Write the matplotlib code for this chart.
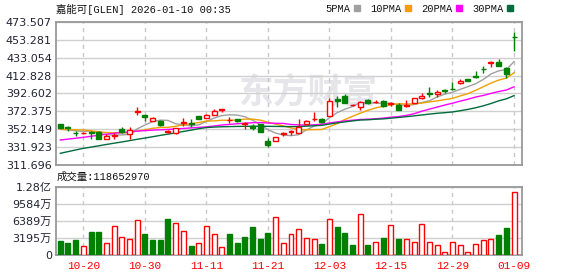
import numpy as np
import matplotlib.pyplot as plt
from matplotlib.lines import Line2D

plt.rcParams['font.family'] = ['DejaVu Sans', 'Noto Sans CJK SC']

# ---- data ----
dates = ["10-20", "10-30", "11-11", "11-21", "12-03", "12-15", "12-29", "01-09"]
date_pos = [3, 11, 19, 27, 35, 43, 51, 59]

opens = [358.6, 354.5, 348.2, 347.6, 349.0, 349.2, 341.0, 345.2, 352.3, 347.5,
         371.5, 368.4, 362.0, 361.3, 349.5, 347.7, 359.8, 359.5, 367.3, 365.5,
         368.5, 374.0, 362.3, 363.5, 358.5, 356.0, 358.2, 339.5, 339.4, 347.5,
         349.5, 348.4, 358.2, 363.5, 364.0, 367.2, 386.8, 390.0, 379.2, 377.5,
         385.3, 383.0, 384.2, 381.0, 379.6, 378.5, 381.6, 387.2, 393.3, 392.0,
         396.2, 398.0, 404.0, 408.8, 412.0, 420.3, 426.6, 428.4, 421.0, 456.5]
highs = [358.6, 356.0, 350.7, 349.5, 350.5, 350.0, 347.5, 348.5, 355.0, 354.5,
         377.0, 368.4, 366.0, 362.5, 351.0, 354.0, 365.5, 363.5, 367.3, 369.0,
         375.0, 375.5, 366.5, 364.0, 360.5, 358.0, 358.5, 342.0, 344.0, 349.6,
         351.5, 364.0, 362.5, 371.3, 365.0, 387.0, 390.0, 391.5, 381.0, 384.0,
         386.5, 385.0, 385.0, 383.5, 381.5, 385.3, 387.5, 393.5, 400.0, 396.5,
         398.0, 405.0, 408.5, 409.0, 418.0, 423.6, 429.0, 431.5, 423.0, 462.0]
lows = [354.1, 350.5, 344.8, 346.5, 341.0, 341.0, 341.0, 341.0, 348.5, 341.0,
        368.5, 361.8, 361.5, 355.5, 348.5, 347.5, 356.0, 355.2, 363.6, 364.5,
        368.0, 372.0, 359.0, 361.0, 352.3, 351.5, 349.0, 332.7, 339.0, 344.7,
        346.0, 348.0, 358.0, 362.0, 360.5, 367.0, 377.7, 381.5, 378.0, 373.5,
        381.0, 381.5, 377.5, 378.5, 373.5, 377.0, 381.5, 386.5, 389.0, 389.0,
        393.5, 396.5, 403.0, 407.0, 410.5, 416.0, 422.8, 423.5, 410.5, 440.5]
closes = [354.1, 353.2, 347.6, 348.5, 348.0, 341.5, 345.0, 346.0, 349.0, 351.5,
          372.5, 366.5, 365.0, 357.5, 350.0, 353.5, 360.5, 358.7, 363.6, 368.5,
          373.0, 374.8, 363.0, 362.0, 359.3, 353.4, 349.6, 334.6, 343.2, 348.0,
          350.0, 355.0, 362.0, 364.2, 361.0, 384.0, 383.6, 381.6, 379.8, 383.0,
          381.6, 383.5, 378.5, 381.8, 374.0, 379.2, 387.2, 389.8, 392.5, 394.6,
          395.5, 397.5, 406.5, 407.2, 411.2, 419.7, 428.5, 423.9, 414.2, 456.0]
# volume in millions of shares
volumes = [26.7, 23.0, 28.5, 16.7, 43.4, 43.4, 22.3, 54.0, 33.5, 29.8,
           65.0, 39.7, 28.5, 28.5, 67.6, 60.0, 44.6, 17.4, 22.3, 54.0,
           39.0, 14.9, 39.7, 23.0, 34.0, 52.7, 30.4, 41.5, 70.7, 22.3,
           39.7, 48.4, 31.6, 29.8, 21.0, 67.0, 52.7, 42.2, 19.2, 76.9,
           19.2, 24.8, 32.2, 55.8, 30.4, 29.8, 24.8, 58.3, 24.8, 18.6,
           5.6, 24.8, 18.6, 5.6, 20.5, 27.9, 29.8, 37.8, 50.8, 118.65297]

ma5 = [352.3, 351.5, 350.5, 349.8, 350.3, 347.8, 346.1, 345.8, 345.9, 346.6,
       352.8, 357.1, 360.9, 362.6, 362.3, 358.5, 357.3, 356.0, 357.3, 361.0,
       364.9, 367.7, 368.6, 368.3, 366.4, 362.5, 357.5, 351.8, 348.0, 345.8,
       345.1, 346.2, 351.6, 355.8, 358.4, 365.2, 371.0, 374.9, 378.0, 382.4,
       381.9, 381.9, 381.3, 381.7, 379.9, 379.4, 380.1, 382.4, 384.5, 388.7,
       391.9, 394.0, 397.3, 400.3, 403.6, 408.4, 414.6, 418.1, 419.5, 428.5]
ma10 = [352.3, 352.0, 351.8, 351.5, 350.5, 349.5, 348.6, 348.4, 348.3, 348.4,
        350.3, 351.6, 353.4, 354.3, 354.5, 355.7, 357.2, 358.5, 359.9, 361.6,
        361.7, 362.5, 362.3, 362.8, 363.7, 363.7, 362.6, 360.2, 358.1, 356.1,
        353.8, 351.8, 351.7, 351.9, 352.1, 355.2, 358.6, 363.3, 366.9, 370.4,
        373.6, 376.4, 378.1, 379.8, 381.1, 380.7, 381.0, 381.8, 383.1, 384.3,
        385.7, 387.1, 389.9, 392.4, 396.1, 400.2, 404.3, 407.7, 409.9, 416.0]
ma20 = [340.2, 341.2, 342.2, 343.2, 344.4, 345.6, 346.8, 347.8, 348.6, 349.4,
        350.2, 350.8, 351.3, 351.7, 352.1, 352.6, 353.2, 353.8, 354.4, 355.0,
        356.0, 357.1, 357.8, 358.5, 359.1, 359.7, 359.9, 359.3, 359.0, 358.9,
        357.7, 357.2, 357.0, 357.3, 357.9, 359.4, 360.6, 361.7, 362.5, 363.3,
        363.7, 364.1, 364.9, 365.9, 366.6, 367.9, 369.8, 372.6, 375.0, 377.3,
        379.6, 381.7, 384.0, 386.1, 388.6, 390.4, 392.7, 394.8, 396.5, 400.1]
ma30 = [325.2, 327.1, 329.0, 330.8, 332.2, 333.7, 335.2, 336.6, 338.0, 339.5,
        341.0, 342.4, 343.9, 345.4, 346.8, 348.3, 349.8, 351.3, 353.0, 354.2,
        354.8, 355.1, 355.3, 355.5, 355.6, 355.7, 355.7, 355.6, 355.5, 355.4,
        355.3, 355.3, 355.8, 356.3, 356.7, 358.2, 359.5, 360.6, 361.7, 362.7,
        363.0, 363.6, 364.0, 364.8, 365.6, 366.5, 367.4, 368.4, 369.4, 370.3,
        371.0, 371.8, 373.2, 374.7, 376.5, 378.7, 381.3, 384.3, 386.6, 390.2]

price_ticks = [311.696, 331.923, 352.149, 372.375, 392.602,
               412.828, 433.054, 453.281, 473.507]
vol_ticks = [0, 31.947, 63.894, 95.841, 127.788]
vol_labels = ["0", "3195万", "6389万", "9584万", "1.28亿"]

RED = "#ff0000"
GREEN = "#008000"
GRID = "#d0d0d0"
FRAME = "#999999"
TXT = "#222233"
MONO = ["Liberation Mono", "Noto Sans CJK SC"]


def style_axes(ax):
    for s in ax.spines.values():
        s.set_color(FRAME)
        s.set_linewidth(1.3)
    ax.yaxis.grid(True, color=GRID, lw=1.0, ls="-")
    ax.xaxis.grid(True, color="#c8c8c8", lw=1.0, ls=(0, (3, 3)))
    ax.set_axisbelow(True)
    ax.tick_params(length=0, labelsize=8, colors=TXT, pad=3)
    ax.set_xlim(-0.56, 60.04)
    ax.set_xticks(date_pos)


def main():
    o = np.array(opens)
    h = np.array(highs)
    l = np.array(lows)
    c = np.array(closes)
    v = np.array(volumes)
    x = np.arange(len(c))

    fig = plt.figure(figsize=(5.78, 2.76), dpi=100)
    ax = fig.add_axes([56 / 578, 1 - 165.3 / 276, 466 / 578, 143.6 / 276])
    axv = fig.add_axes([56 / 578, 1 - 255.3 / 276, 466 / 578, 68.6 / 276])

    # ---- price panel ----
    style_axes(ax)
    ax.set_ylim(price_ticks[0], price_ticks[-1])
    ax.set_yticks(price_ticks, ["%.3f" % t for t in price_ticks])
    ax.set_xticklabels([])

    ax.text(0.541, 0.51, "东方财富", transform=ax.transAxes, ha="center",
            va="center", fontsize=25, fontweight="bold", color="#e6e6ea",
            family=["Noto Sans CJK SC"], zorder=0.5)

    up = c >= o
    col = np.where(up, RED, GREEN)
    ax.vlines(x, l, h, colors=col, lw=1, zorder=3)
    body = np.maximum(np.abs(c - o), 0.25)
    ax.bar(x, body, bottom=np.minimum(o, c), width=0.65,
           color=np.where(up, "white", GREEN), edgecolor=col, lw=1, zorder=4)

    ax.plot(x, ma5, color="#a0a0a0", lw=1, zorder=2)
    ax.plot(x, ma10, color="#f0a000", lw=1, zorder=2)
    ax.plot(x, ma20, color="#ff00ff", lw=1, zorder=2)
    ax.plot(x, ma30, color="#006b3c", lw=1, zorder=2)

    # ---- volume panel ----
    style_axes(axv)
    axv.set_ylim(0, vol_ticks[-1])
    axv.set_yticks(vol_ticks, vol_labels)
    axv.set_xticklabels(dates, color=RED, fontsize=8, family=MONO)
    axv.tick_params(axis="x", pad=4)
    prev = np.r_[o[0], c[:-1]]
    vup = c >= prev
    axv.bar(x, v, width=0.65, color=np.where(vup, "white", GREEN),
            edgecolor=np.where(vup, RED, GREEN), lw=1, zorder=3)

    # ---- header texts ----
    fig.text(56 / 578, 1 - 9 / 276, "嘉能可[GLEN] 2026-01-10 00:35",
             fontsize=7.5, color="#111111", family=MONO, va="center")
    fig.text(57 / 578, 1 - 177 / 276, "成交量:118652970",
             fontsize=7.5, color="#111111", family=MONO, va="center")

    handles = [Line2D([], [], ls="none", marker="s", ms=4, color=cc)
               for cc in ["#a0a0a0", "#f0a000", "#ff00ff", "#006b3c"]]
    leg = fig.legend(handles, ["5PMA", "10PMA", "20PMA", "30PMA"], ncol=4,
                     markerfirst=False, frameon=False, loc="center right",
                     bbox_to_anchor=(514 / 578, 1 - 9 / 276),
                     prop={"family": MONO, "size": 7.5},
                     handlelength=0.8, handletextpad=0.2, columnspacing=0.9,
                     borderpad=0, borderaxespad=0)
    for t in leg.get_texts():
        t.set_color("#111111")

    fig.savefig("out.png", dpi=100)


if __name__ == "__main__":
    main()
